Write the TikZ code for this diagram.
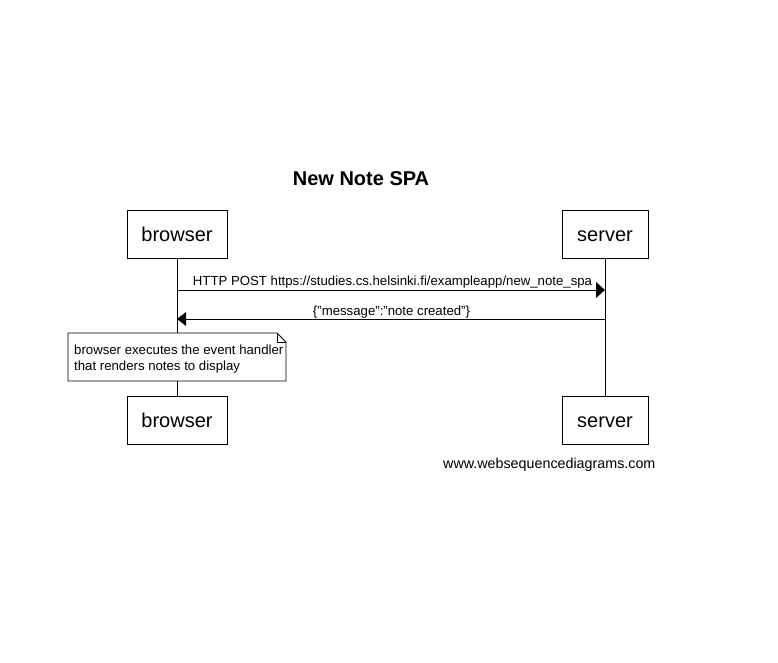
\documentclass[tikz,border=0pt]{standalone}
\usepackage{fontspec}
\setmainfont{Liberation Sans}
\begin{document}
\begin{tikzpicture}[x=1pt,y=-1pt,
  actor/.style={draw,line width=0.8pt,minimum height=48pt,inner sep=0pt,text height=18.5pt,text depth=4pt,font=\fontsize{20}{24}\selectfont},
  life/.style={line width=0.8pt},
  msg/.style={line width=0.8pt},
  lbl/.style={font=\fontsize{13.2}{15}\selectfont,inner sep=0pt},
  head/.style={fill=black}
]
\useasboundingbox (0,0) rectangle (778,663);
\node[font=\bfseries\fontsize{20}{24}\selectfont] (title) at (361,179) {New Note SPA};
\node[actor,minimum width=100pt] (bt) at (177,234) {browser};
\node[actor,minimum width=86pt] (st) at (605,234) {server};
\node[actor,minimum width=100pt] (bb) at (177,420) {browser};
\node[actor,minimum width=86pt] (sb) at (605,420) {server};
\draw[life] (bt.south) -- (bb.north);
\draw[life] (st.south) -- (sb.north);
% message 1
\coordinate (m1a) at (177,290);
\coordinate (m1b) at (605,290);
\draw[msg] (m1a) -- (596,290);
\fill[head] (596,282) -- (m1b) -- (596,298) -- cycle;
\node[lbl,anchor=base] (l1) at (392.5,285) {HTTP POST https://studies.cs.helsinki.fi/exampleapp/new\_note\_spa};
% message 2
\coordinate (m2a) at (605,319);
\coordinate (m2b) at (177,319);
\draw[msg] (m2a) -- (186,319);
\fill[head] (186,312) -- (m2b) -- (186,326) -- cycle;
\node[lbl,anchor=base] (l2) at (391.5,315) {\{"message":"note created"\}};
% note
\fill[white] (68,333) -- (277,333) -- (286,342) -- (286,381) -- (68,381) -- cycle;
\draw[line width=0.8pt] (68,333) -- (277,333) -- (286,342) -- (286,381) -- (68,381) -- cycle;
\draw[line width=0.6pt] (277,333) -- (277,342) -- (286,342);
\node[lbl,anchor=base west] (n1) at (74,354) {browser executes the event handler};
\node[lbl,anchor=base west] (n2) at (74,370) {that renders notes to display};
\node[font=\fontsize{14.3}{17}\selectfont,anchor=base west,inner sep=0pt] (wsd) at (443,468) {www.websequencediagrams.com};
\end{tikzpicture}
\end{document}
